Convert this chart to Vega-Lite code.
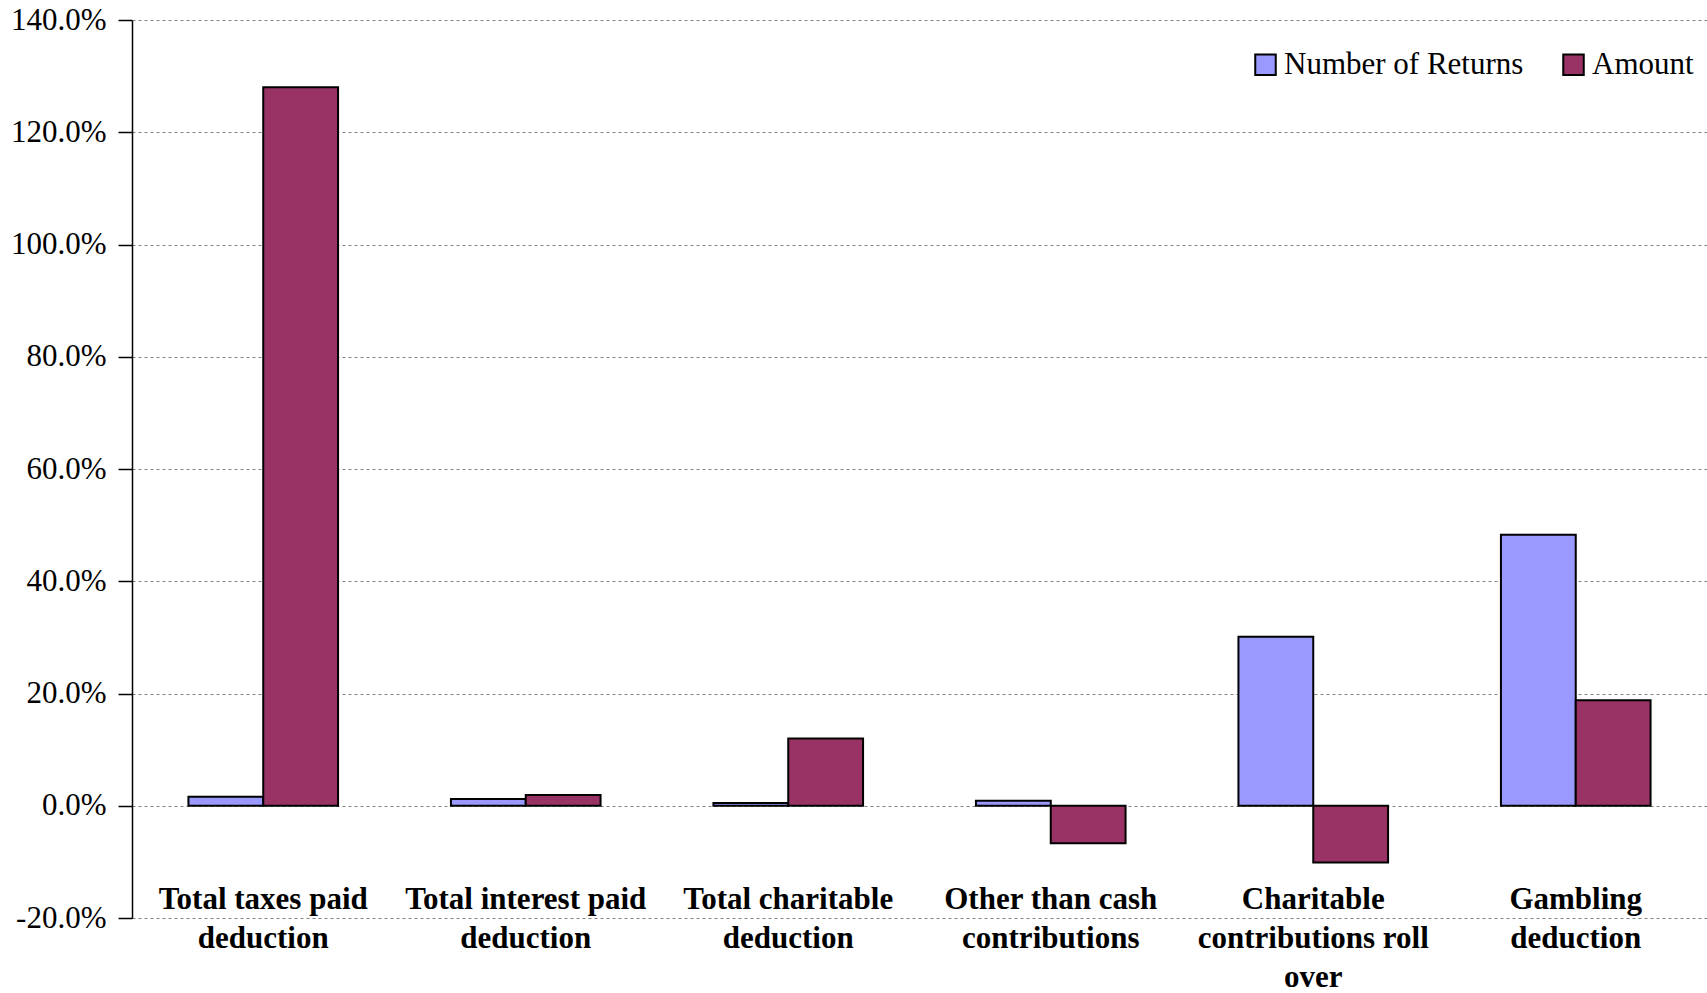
{
  "$schema": "https://vega.github.io/schema/vega-lite/v6.json",
  "autosize": {"type": "none"},
  "padding": {"left": 132, "top": 20, "right": 0, "bottom": 75},
  "width": 1575,
  "height": 898,
  "background": "white",
  "config": {
    "view": {"stroke": null},
    "font": "Liberation Serif"
  },
  "data": {
    "values": [
      {"category": "Total taxes paid|deduction", "series": "Number of Returns", "value": 1.6},
      {"category": "Total taxes paid|deduction", "series": "Amount", "value": 128.0},
      {"category": "Total interest paid|deduction", "series": "Number of Returns", "value": 1.2},
      {"category": "Total interest paid|deduction", "series": "Amount", "value": 1.9},
      {"category": "Total charitable|deduction", "series": "Number of Returns", "value": 0.5},
      {"category": "Total charitable|deduction", "series": "Amount", "value": 12.0},
      {"category": "Other than cash|contributions", "series": "Number of Returns", "value": 0.9},
      {"category": "Other than cash|contributions", "series": "Amount", "value": -6.7},
      {"category": "Charitable|contributions roll|over", "series": "Number of Returns", "value": 30.1},
      {"category": "Charitable|contributions roll|over", "series": "Amount", "value": -10.1},
      {"category": "Gambling|deduction", "series": "Number of Returns", "value": 48.3},
      {"category": "Gambling|deduction", "series": "Amount", "value": 18.8}
    ]
  },
  "mark": {"type": "bar", "stroke": "black", "strokeWidth": 2},
  "encoding": {
    "x": {
      "field": "category",
      "type": "nominal",
      "sort": null,
      "scale": {"paddingInner": 0.43, "paddingOuter": 0.215},
      "axis": {
        "title": null,
        "labelAngle": 0,
        "domain": false,
        "ticks": false,
        "grid": false,
        "labelFont": "Liberation Serif",
        "labelFontWeight": "bold",
        "labelFontSize": 31,
        "labelColor": "black",
        "labelLineHeight": 39,
        "labelPadding": -34,
        "labelLimit": 400,
        "labelExpr": "split(datum.label, '|')"
      }
    },
    "xOffset": {
      "field": "series",
      "type": "nominal",
      "sort": ["Number of Returns", "Amount"],
      "scale": {"paddingInner": 0, "paddingOuter": 0}
    },
    "y": {
      "field": "value",
      "type": "quantitative",
      "scale": {"domain": [-20, 140], "nice": false, "zero": false},
      "axis": {
        "title": null,
        "values": [-20, 0, 20, 40, 60, 80, 100, 120, 140],
        "labelExpr": "replace(format(datum.value, '.1f'), '\u2212', '-') + '%'",
        "labelFont": "Liberation Serif",
        "labelFontSize": 31,
        "labelColor": "black",
        "labelPadding": 12,
        "domainColor": "black",
        "domainWidth": 1.5,
        "tickColor": "black",
        "tickSize": 14,
        "tickWidth": 1.5,
        "grid": true,
        "gridColor": "#808080",
        "gridDash": [3, 3],
        "gridWidth": 1
      }
    },
    "color": {
      "field": "series",
      "type": "nominal",
      "sort": ["Number of Returns", "Amount"],
      "scale": {"domain": ["Number of Returns", "Amount"], "range": ["#9999FF", "#993366"]},
      "legend": {
        "title": null,
        "orient": "none",
        "legendX": 1118,
        "legendY": 29,
        "direction": "horizontal",
        "padding": 0,
        "symbolType": "square",
        "symbolSize": 420,
        "symbolStrokeColor": "black",
        "symbolStrokeWidth": 2,
        "labelFont": "Liberation Serif",
        "labelFontSize": 31,
        "labelColor": "black",
        "labelOffset": 3,
        "columnPadding": 34,
        "labelLimit": 400
      }
    }
  }
}
